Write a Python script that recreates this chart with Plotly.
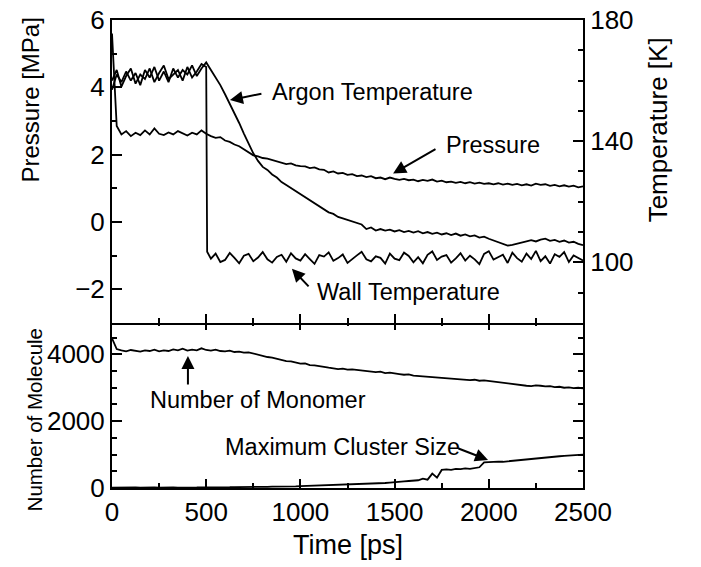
import plotly.graph_objects as go

# time grid [ps], sampled every 25 ps
t = list(range(0, 2501, 25))

# argon temperature [K]
argon_temp = [157, 162, 159.5, 163, 160, 162.5, 158.5, 163.5, 161, 164.5,
              160, 163, 159.5, 164, 161, 163.5, 162, 165, 161.5, 164, 166,
              163.5, 161, 158.5, 155.5, 152.5, 149.5, 146, 142.5, 139, 136,
              133.5, 131.5, 130.5, 129, 128, 126.5, 125.5, 124.5, 123.5, 122.5,
              121.5, 120.5, 119.5, 118.5, 117.5, 116.5, 116, 115, 114.5, 114,
              113.5, 113, 112.5, 111, 111.5, 110.5, 111, 110.5, 110.8, 110.2,
              110.6, 110, 110.4, 109.8, 110.3, 109.6, 110, 109.4, 109.8, 109.2,
              109.6, 109, 109.5, 108.8, 109.2, 108.6, 108.9, 108.2, 108.5, 107.8,
              107.2, 106.5, 106, 105.5, 105.8, 106.1, 106.6, 106.9, 107.3, 106.9,
              107.5, 107.8, 107.1, 107.4, 106.8, 107.2, 106.5, 106.8, 106.1, 105.7]

# wall temperature [K] (extra sample at 505 ps for the quench)
t_wall = list(range(0, 501, 25)) + [505] + list(range(525, 2501, 25))
wall_temp = [160, 163.5, 158, 161.5, 164, 159, 162, 160.5, 164, 159.5,
             162.5, 165, 160.5, 162, 163.5, 160, 164.5, 161, 163, 165.5, 164.5,
             103.5,
             101.2, 102.9, 100.1, 100.8, 103.1, 101.5, 99.7, 102.2, 102.8, 100.4,
             101.6, 103.4, 101.0, 99.9, 101.8, 102.5, 100.2, 103.0, 101.3, 100.6,
             102.7, 101.1, 99.5, 102.4, 101.9, 103.3, 100.5, 101.4, 102.6, 99.8,
             100.9, 102.3, 103.5, 101.0, 100.3, 102.0, 101.5, 99.6, 102.9, 101.2,
             100.7, 103.2, 102.1, 100.0, 101.7, 99.7, 102.5, 103.6, 100.8, 101.9,
             102.4, 99.9, 101.3, 103.0, 100.6, 102.2, 101.0, 99.4, 102.8, 103.7,
             100.9, 101.6, 102.5, 99.8, 103.2, 101.4, 100.2, 102.9, 101.1, 103.8,
             100.4, 102.0, 99.6, 102.7, 101.8, 103.4, 100.1, 102.3, 101.5, 100.6]

# pressure [MPa]
pressure = [5.6, 2.85,
            2.6, 2.7, 2.55, 2.65, 2.58, 2.72, 2.6, 2.78, 2.62, 2.58,
            2.66, 2.6, 2.7, 2.63, 2.57, 2.65, 2.6, 2.72, 2.62,
            2.55, 2.5, 2.52, 2.42, 2.38, 2.3, 2.25, 2.16, 2.08, 1.98,
            1.95, 1.9, 1.88, 1.84, 1.8, 1.78, 1.72, 1.74, 1.68, 1.66,
            1.65, 1.6, 1.62, 1.56, 1.55, 1.47, 1.5, 1.44, 1.46, 1.4,
            1.42, 1.36, 1.38, 1.33, 1.36, 1.3, 1.32, 1.27, 1.32, 1.28,
            1.25, 1.28, 1.24, 1.26, 1.21, 1.25, 1.22, 1.26, 1.2, 1.23,
            1.18, 1.2, 1.16, 1.19, 1.15, 1.18, 1.14, 1.17, 1.13, 1.15,
            1.12, 1.15, 1.11, 1.14, 1.1, 1.13, 1.09, 1.12, 1.08, 1.14,
            1.1, 1.12, 1.07, 1.1, 1.06, 1.09, 1.05, 1.08, 1.03, 1.06]

# number of monomers
monomer = [4480, 4160, 4120, 4090, 4130, 4100, 4080, 4120, 4100, 4140,
           4090, 4120, 4100, 4150, 4120, 4170, 4110, 4140, 4120, 4180, 4130,
           4110, 4140, 4100, 4090, 4110, 4070, 4080, 4050, 4060, 4020,
           3980, 3950, 3920, 3900, 3860, 3830, 3800, 3790, 3750, 3720,
           3730, 3680, 3670, 3640, 3630, 3600, 3580, 3560, 3570, 3540,
           3550, 3530, 3510, 3500, 3490, 3470, 3480, 3440, 3450, 3420,
           3410, 3390, 3400, 3360, 3350, 3330, 3320, 3300, 3310, 3280,
           3290, 3260, 3270, 3240, 3250, 3230, 3240, 3210, 3220, 3200,
           3180, 3170, 3150, 3140, 3120, 3100, 3080, 3060, 3050, 3070,
           3060, 3040, 3050, 3020, 3030, 3000, 3010, 2990, 3000, 2980]

# maximum cluster size
cluster = [10, 15, 12, 18, 14, 16, 12, 18, 15, 17,
           13, 19, 15, 18, 14, 20, 16, 19, 17, 21, 18,
           20, 22, 19, 24, 22, 26, 24, 28, 26, 32,
           30, 36, 34, 40, 38, 44, 42, 50, 48, 58,
           62, 70, 68, 80, 76, 88, 84, 96, 100, 108,
           104, 118, 114, 126, 124, 138, 134, 150, 162, 180,
           186, 196, 210, 220, 232, 280, 250, 430, 310, 540,
           555, 545, 570, 565, 585, 575, 600, 620, 770, 780,
           770, 790, 785, 800, 795, 815, 825, 840, 860, 875,
           890, 910, 925, 940, 950, 960, 975, 985, 995, 1000]

FONT = "Liberation Sans, Arial, sans-serif"
line = dict(color="black", width=1.8)

fig = go.Figure()
fig.add_trace(go.Scatter(x=t, y=pressure, mode="lines", line=line, xaxis="x2", yaxis="y2"))
fig.add_trace(go.Scatter(x=t, y=argon_temp, mode="lines", line=line, xaxis="x2", yaxis="y3"))
fig.add_trace(go.Scatter(x=t_wall, y=wall_temp, mode="lines", line=line, xaxis="x2", yaxis="y3"))
fig.add_trace(go.Scatter(x=t, y=monomer, mode="lines", line=line, xaxis="x", yaxis="y"))
fig.add_trace(go.Scatter(x=t, y=cluster, mode="lines", line=line, xaxis="x", yaxis="y"))

ax_common = dict(showgrid=False, zeroline=False, showline=True, linecolor="black",
                 linewidth=2, ticks="inside", tickcolor="black", tickwidth=2,
                 automargin=False, ticklabeloverflow="allow",
                 tickfont=dict(size=26, color="black", family=FONT))
split = 0.357
overlap = 0.0043  # lets the two panel borders share one line

fig.update_layout(
    width=701, height=567,
    margin=dict(l=112, r=118, t=20, b=79),
    paper_bgcolor="white", plot_bgcolor="white",
    showlegend=False,
    font=dict(family=FONT, color="black"),
    xaxis=dict(ax_common, domain=[0, 1], anchor="y", range=[0, 2500],
               tickvals=[0, 500, 1000, 1500, 2000, 2500], ticklen=9, mirror="ticks",
               minor=dict(ticks="inside", dtick=250, tick0=0, ticklen=5, tickcolor="black", tickwidth=2)),
    xaxis2=dict(ax_common, domain=[0, 1], anchor="y2", range=[0, 2500], matches="x",
                tickvals=[0, 500, 1000, 1500, 2000, 2500], ticklen=9, showticklabels=False,
                mirror=True,
                minor=dict(ticks="inside", dtick=250, tick0=0, ticklen=5, tickcolor="black", tickwidth=2)),
    yaxis=dict(ax_common, domain=[0, split], anchor="x", range=[0, 5000],
               tickvals=[0, 2000, 4000], ticklen=10, mirror="ticks",
               minor=dict(ticks="inside", dtick=500, tick0=0, ticklen=5, tickcolor="black", tickwidth=2)),
    yaxis2=dict(ax_common, domain=[split - overlap, 1], anchor="x2", range=[-3, 6],
                tickvals=[-2, 0, 2, 4, 6], ticktext=["\u22122", "0", "2", "4", "6"], ticklen=10,
                minor=dict(ticks="inside", dtick=1, tick0=0, ticklen=5, tickcolor="black", tickwidth=2)),
    yaxis3=dict(ax_common, domain=[split - overlap, 1], anchor="x2", overlaying="y2", side="right",
                range=[80, 180], tickvals=[100, 140, 180], ticklen=10,
                minor=dict(ticks="inside", dtick=10, tick0=0, ticklen=5, tickcolor="black", tickwidth=2)),
)

# axis titles
titles = [
    dict(text="Time [ps]", x=0.5, y=-0.122, textangle=0, size=27),
    dict(text="Pressure [MPa]", x=-0.172, y=0.83, textangle=-90, size=24),
    dict(text="Number of Molecule", x=-0.165, y=0.145, textangle=-90, size=20.5),
    dict(text="Temperature [K]", x=1.16, y=0.765, textangle=-90, size=26),
]
for a in titles:
    fig.add_annotation(text=a["text"], x=a["x"], y=a["y"], xref="paper", yref="paper",
                       textangle=a["textangle"], showarrow=False, xanchor="center", yanchor="middle",
                       font=dict(size=a["size"], color="black", family=FONT))

# labels with arrows (head at x,y; tail at ax,ay, in data units)
labels = [
    dict(text="Argon Temperature", tx=839, ty=3.85, x=626, y=3.62, ax=801, ay=3.82, xr="x2", yr="y2"),
    dict(text="Pressure", tx=1762, ty=2.28, x=1492, y=1.44, ax=1725, ay=2.19, xr="x2", yr="y2"),
    dict(text="Wall Temperature", tx=1078, ty=-2.07, x=955, y=-1.39, ax=1051, ay=-1.96, xr="x2", yr="y2"),
    dict(text="Number of Monomer", tx=191, ty=2635, x=403, y=3952, ax=403, ay=3054, xr="x", yr="y"),
    dict(text="Maximum Cluster Size", tx=589, ty=1228, x=1996, y=838, ax=1831, ay=1198, xr="x", yr="y"),
]
for a in labels:
    fig.add_annotation(text=a["text"], x=a["tx"], y=a["ty"], xref=a["xr"], yref=a["yr"],
                       showarrow=False, xanchor="left", yanchor="middle",
                       font=dict(size=23.5, color="black", family=FONT))
    fig.add_annotation(text="", x=a["x"], y=a["y"], ax=a["ax"], ay=a["ay"],
                       xref=a["xr"], yref=a["yr"], axref=a["xr"], ayref=a["yr"],
                       showarrow=True, arrowhead=2, arrowsize=1.3, arrowwidth=2,
                       arrowcolor="black", standoff=0)

# drop the default 8 px body margin so the figure sits at the window corner
fig.write_html("out.html", config={"displayModeBar": False},
               post_script="document.body.style.margin = '0px';")
